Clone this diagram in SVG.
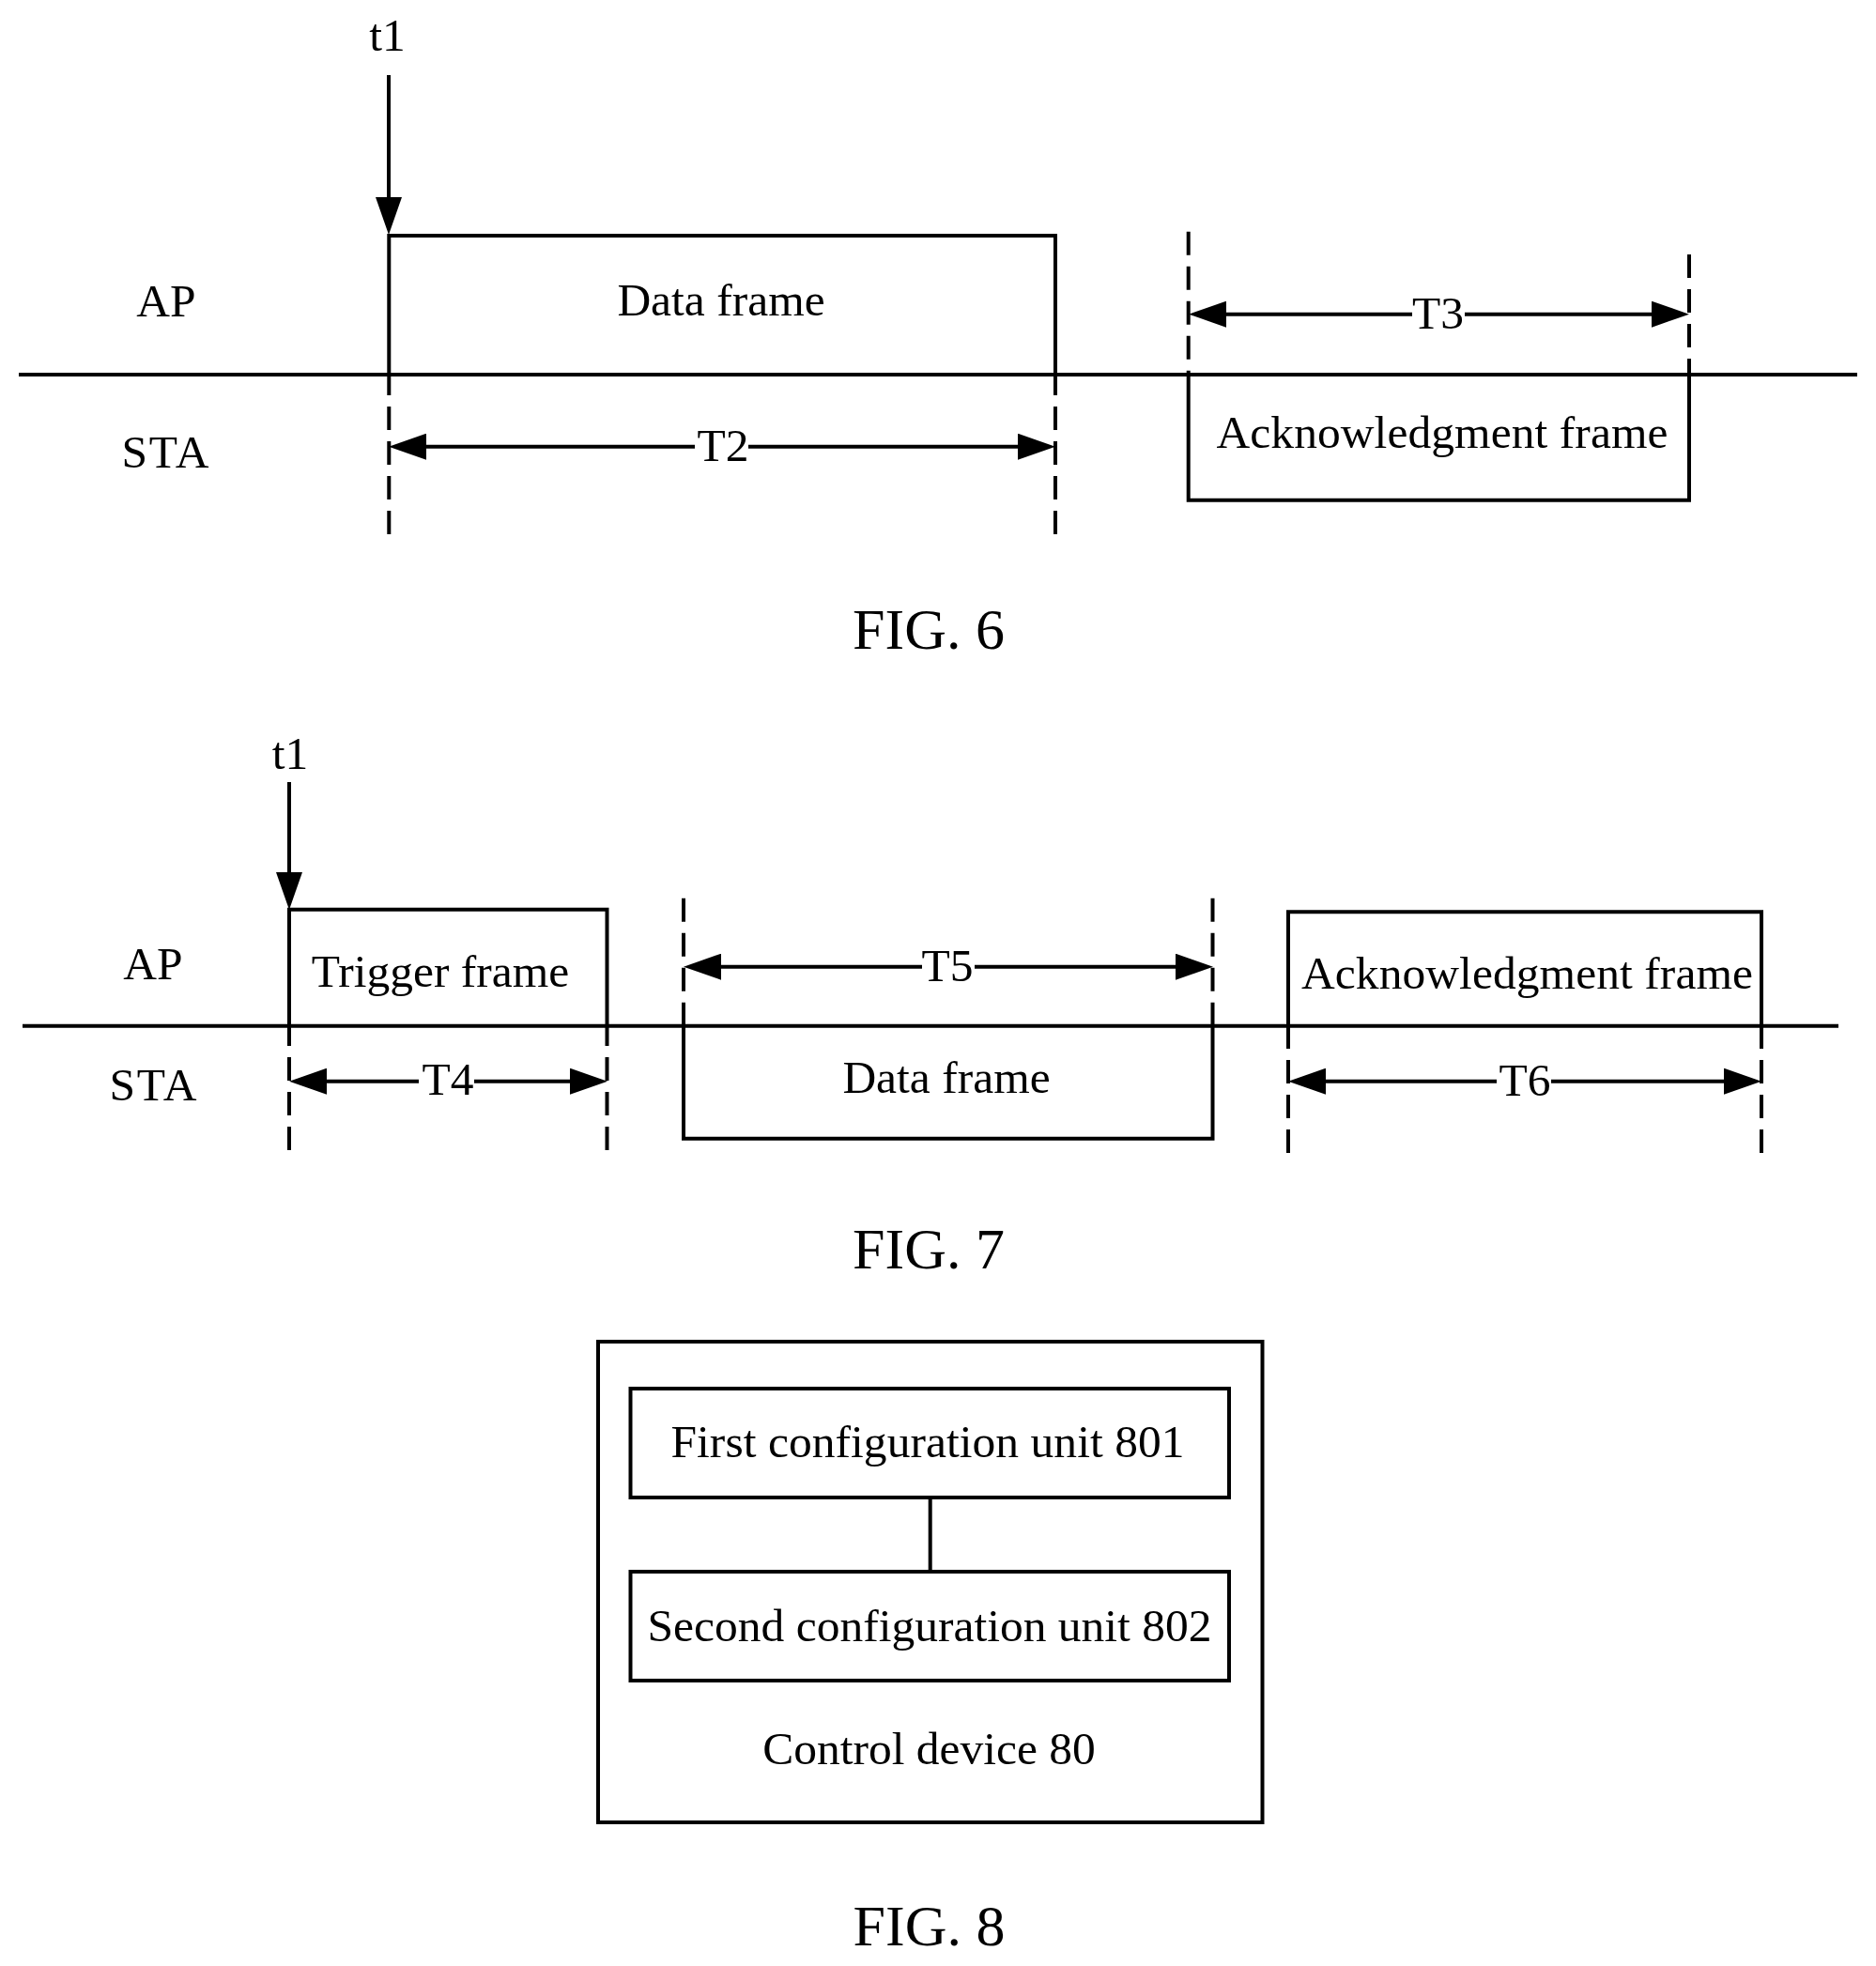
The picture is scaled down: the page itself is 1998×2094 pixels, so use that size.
<svg xmlns="http://www.w3.org/2000/svg" width="1998" height="2094" viewBox="0 0 1998 2094">
<style>
.s{fill:none;stroke:#000;stroke-width:4}
.d{fill:none;stroke:#000;stroke-width:4;stroke-dasharray:25 12}
.a{marker-end:url(#ah)}
text{font-family:"Liberation Serif","Times New Roman",serif;font-size:49.5px;fill:#000;text-anchor:middle}
.f{font-size:62px}
</style>
<defs>
<marker id="ah" markerUnits="userSpaceOnUse" viewBox="0 0 40 28" markerWidth="40" markerHeight="28" refX="20" refY="14" orient="auto"><path d="M0,0L40,14L0,28Z" fill="#000"/></marker>
</defs>
<rect width="1998" height="2094" fill="#fff"/>
<g id="connectors">
<path class="s" d="M20 399H1978M24 1092.7H1958"/>
<path class="s a" d="M414 80V230"/>
<path class="s a" d="M308 833V949"/>
<path class="d" d="M414.3 569V399M1124 569V399M1265.7 246.7V399M1799 271V399"/>
<path class="d" d="M308 1225V1092M646.5 1225V1092M728 956.7V1092M1291.5 956.7V1092M1372 1228V1092M1876 1228V1092"/>
<path class="s a" d="M740 475.7H434"/><path class="s a" d="M797 475.7H1104"/>
<path class="s a" d="M1504 334.7H1286"/><path class="s a" d="M1560 334.7H1779"/>
<path class="s a" d="M446 1151.7H328"/><path class="s a" d="M505 1151.7H627"/>
<path class="s a" d="M982 1029.7H748"/><path class="s a" d="M1038 1029.7H1272"/>
<path class="s a" d="M1594 1151.7H1392"/><path class="s a" d="M1652 1151.7H1856"/>
<path class="s" d="M990.7 1595V1674"/>
</g>
<g id="fig6">
<text x="412.6" y="54">t1</text>
<text x="177" y="336.5">AP</text>
<text x="176" y="498" textLength="93">STA</text>
<text x="770" y="491">T2</text>
<text x="1531.5" y="350">T3</text>
<g id="fig6-data"><path class="s" d="M414.3 399V251H1124V399"/><text x="768" y="336">Data frame</text></g>
<g id="fig6-ack"><path class="s" d="M1265.7 399V532.7H1799V399"/><text x="1536" y="476.7" textLength="481">Acknowledgment frame</text></g>
<text class="f" x="989" y="691">FIG. 6</text>
</g>
<g id="fig7">
<text x="309" y="819">t1</text>
<text x="163" y="1042.6">AP</text>
<text x="163" y="1172" textLength="93">STA</text>
<text x="477" y="1166">T4</text>
<text x="1009" y="1045">T5</text>
<text x="1624" y="1167">T6</text>
<g id="fig7-trigger"><path class="s" d="M308 1092.7V968.7H646.5V1092.7"/><text x="469" y="1050.5">Trigger frame</text></g>
<g id="fig7-data"><path class="s" d="M728 1092.7V1212.7H1291.5V1092.7"/><text x="1008" y="1164">Data frame</text></g>
<g id="fig7-ack"><path class="s" d="M1372 1092.7V971.3H1876V1092.7"/><text x="1626.5" y="1052.5" textLength="481">Acknowledgment frame</text></g>
<text class="f" x="989" y="1351">FIG. 7</text>
</g>
<g id="fig8">
<g id="control-device"><rect class="s" x="637" y="1429" width="707.5" height="512"/><text x="989.5" y="1878.5">Control device 80</text></g>
<g id="unit-801"><rect class="s" x="671.5" y="1479" width="637.5" height="116"/><text x="988" y="1552" textLength="547">First configuration unit 801</text></g>
<g id="unit-802"><rect class="s" x="671.5" y="1674" width="637.5" height="116"/><text x="990" y="1747.5" textLength="601">Second configuration unit 802</text></g>
<text class="f" x="989.5" y="2072">FIG. 8</text>
</g>
</svg>
